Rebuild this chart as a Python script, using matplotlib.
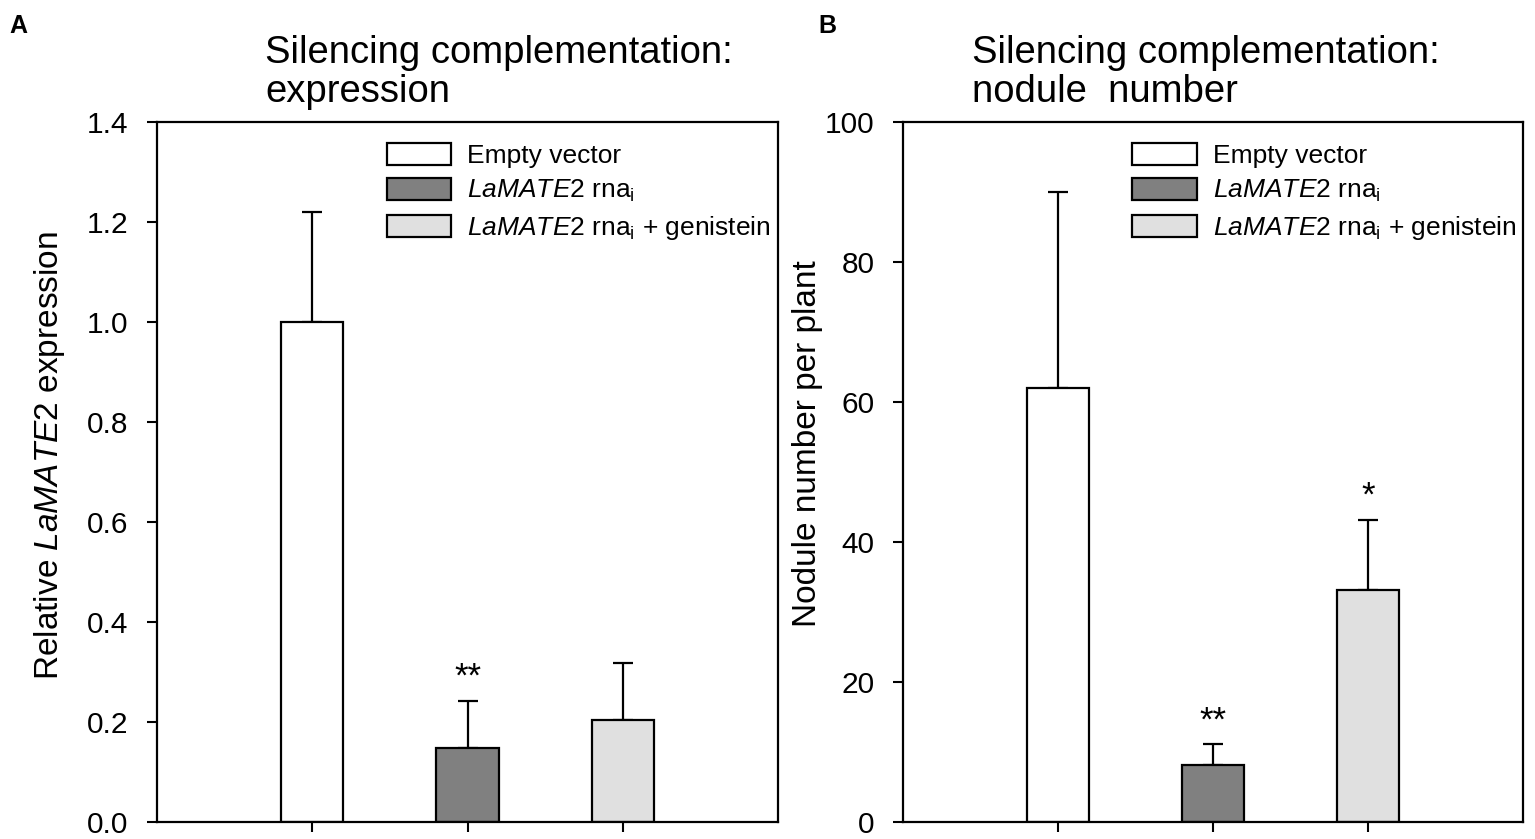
import matplotlib
matplotlib.use("Agg")
import matplotlib.pyplot as plt
from matplotlib.patches import Patch

plt.rcParams['font.family'] = ['Liberation Sans', 'DejaVu Sans']
plt.rcParams['mathtext.fontset'] = 'custom'
plt.rcParams['mathtext.rm'] = 'Liberation Sans'
plt.rcParams['mathtext.it'] = 'Liberation Sans:italic'

# data
positions = [0, 1, 2]
group_labels = ['Empty vector',
                r'$\it{LaMATE2}$ rna$_\mathrm{i}$',
                r'$\it{LaMATE2}$ rna$_\mathrm{i}$ + genistein']
bar_colors = ['white', '#808080', '#e0e0e0']

expr_mean = [1.0, 0.148, 0.205]
expr_err = [0.22, 0.095, 0.113]
expr_sig = ['', '**', '']
expr_ticks = [0.0, 0.2, 0.4, 0.6, 0.8, 1.0, 1.2, 1.4]

nod_mean = [62.0, 8.2, 33.2]
nod_err = [28.0, 2.9, 10.0]
nod_sig = ['', '**', '*']
nod_ticks = [0, 20, 40, 60, 80, 100]

W, H = 1535, 839
fig = plt.figure(figsize=(W / 100, H / 100), dpi=100)
axA = fig.add_axes([157 / W, 17 / H, 621 / W, 700 / H])
axB = fig.add_axes([903 / W, 17 / H, 620 / W, 700 / H])


def draw_panel(ax, mean, err, sig, ticks, fmt):
    ax.bar(positions, mean, width=0.4, color=bar_colors, edgecolor='black',
           linewidth=1.6, zorder=2)
    ax.errorbar(positions, mean, yerr=[[0] * 3, err], fmt='none', ecolor='black',
                elinewidth=1.6, capsize=7, capthick=1.6, zorder=1)
    for x, m, e, s in zip(positions, mean, err, sig):
        if s:
            ax.annotate(s, (x, m + e), xytext=(0, 10), textcoords='offset points',
                        ha='center', va='baseline', fontsize=25)
    ax.set_xlim(-1, 3)
    ax.set_ylim(ticks[0], ticks[-1])
    ax.set_yticks(ticks)
    ax.set_yticklabels([fmt.format(t) for t in ticks])
    ax.set_xticks(positions)
    ax.set_xticklabels([])
    ax.tick_params(axis='both', direction='out', length=7.5, width=1.5,
                   labelsize=21.5, pad=13)
    for sp in ax.spines.values():
        sp.set_linewidth(1.6)
    handles = [Patch(facecolor=c, edgecolor='black', linewidth=1.6)
               for c in bar_colors]
    ax.legend(handles, group_labels, loc='upper left', bbox_to_anchor=(0.37, 0.97),
              frameon=False, fontsize=19, handlelength=2.45, handleheight=0.9,
              handletextpad=0.6, labelspacing=0.38, borderpad=0, borderaxespad=0)


draw_panel(axA, expr_mean, expr_err, expr_sig, expr_ticks, '{:.1f}')
draw_panel(axB, nod_mean, nod_err, nod_sig, nod_ticks, '{:d}')

axA.set_ylabel(r'Relative $\it{LaMATE2}$ expression', fontsize=24)
axB.set_ylabel('Nodule number per plant', fontsize=24)
axA.yaxis.set_label_coords(-0.145, 0.524)
axB.yaxis.set_label_coords(-0.129, 0.54)

title_lines = [('Silencing complementation:', 'expression'),
               ('Silencing complementation:', 'nodule  number')]
for x0, (l1, l2) in zip([265, 972], title_lines):
    fig.text(x0 / W, 1 - 63 / H, l1, ha='left', va='baseline', fontsize=27.5)
    fig.text(x0 / W, 1 - 102 / H, l2, ha='left', va='baseline', fontsize=27.5)

fig.text(9 / W, 1 - 14 / H, 'A', ha='left', va='top', fontsize=18, weight='bold')
fig.text(818 / W, 1 - 14 / H, 'B', ha='left', va='top', fontsize=18, weight='bold')

fig.savefig('out.png', dpi=100)
